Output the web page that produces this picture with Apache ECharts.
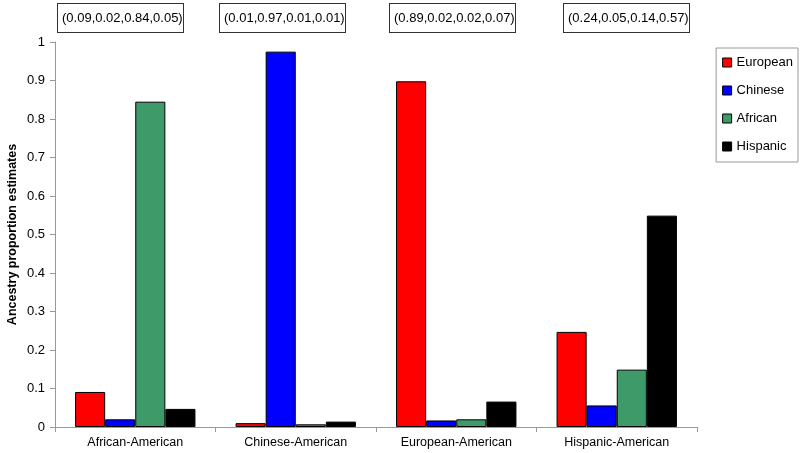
<!DOCTYPE html>
<html><head><meta charset="utf-8">
<script src="https://cdn.jsdelivr.net/npm/echarts@6/dist/echarts.min.js"></script>
<style>html,body{margin:0;padding:0;background:#fff}#c{width:800px;height:453px}</style>
</head><body><div id="c"></div>
<script>
const categories = ['African-American','Chinese-American','European-American','Hispanic-American'];
const european = [0.091, 0.010, 0.898, 0.247];
const chinese  = [0.020, 0.975, 0.017, 0.056];
const african  = [0.845, 0.007, 0.020, 0.149];
const hispanic = [0.047, 0.014, 0.066, 0.549];
const boxLabels = ['(0.09,0.02,0.84,0.05)','(0.01,0.97,0.01,0.01)','(0.89,0.02,0.02,0.07)','(0.24,0.05,0.14,0.57)'];
const yTicks = [0,0.1,0.2,0.3,0.4,0.5,0.6,0.7,0.8,0.9,1];

const chart = echarts.init(document.getElementById('c'));
const font = 'Liberation Sans, Arial, sans-serif';
function s(name, data, color){
  return {name, type:'bar', data, barGap:'0%', barCategoryGap:'25%',
    itemStyle:{color, borderColor:'#000', borderWidth:1}};
}
const boxCenters = [120, 282, 452, 626];
chart.setOption({
  animation:false,
  textStyle:{fontFamily:font},
  grid:{left:55, right:103, top:42, bottom:26, outerBoundsMode:'none', containLabel:false},
  legend:{orient:'vertical', right:2, top:48, itemWidth:9, itemHeight:9, itemGap:15,
    borderColor:'#999', borderWidth:1, padding:[8,5,9,6],
    icon:'rect',
    itemStyle:{borderColor:'#000', borderWidth:1},
    textStyle:{fontSize:13, color:'#000', fontFamily:font},
    data:['European','Chinese','African','Hispanic']},
  xAxis:{type:'category', data:categories,
    axisLine:{lineStyle:{color:'#999'}},
    axisTick:{show:true, alignWithLabel:false, length:5, lineStyle:{color:'#999'}},
    axisLabel:{color:'#000', fontSize:12.5, margin:9, fontFamily:'Liberation Sans Narrow, Liberation Sans, Arial'}},
  yAxis:{type:'value', min:0, max:1, interval:0.1,
    name:'Ancestry proportion estimates', nameLocation:'middle', nameGap:36, nameMoveOverlap:false,
    nameTextStyle:{fontWeight:'bold', fontSize:12.5, color:'#000'},
    axisLine:{show:true, lineStyle:{color:'#999'}},
    axisTick:{show:true, inside:false, length:5, lineStyle:{color:'#999'}},
    splitLine:{show:false},
    axisLabel:{color:'#000', fontSize:13, margin:10,
      formatter:v=>{const i=yTicks.findIndex(t=>Math.abs(t-v)<1e-9); return i>=0? String(yTicks[i]) : '';}}},
  graphic: boxLabels.map((t,i)=>({type:'text', left:boxCenters[i]-63, top:3,
    style:{text:t, fontSize:13, fill:'#000', fontFamily:font,
      backgroundColor:'#fff', borderColor:'#333', borderWidth:1, padding:[8,4,7,4], width:117, align:'left'}})),
  series:[s('European',european,'#ff0000'), s('Chinese',chinese,'#0000ff'), s('African',african,'#3f9a69'), s('Hispanic',hispanic,'#000000')]
});
</script></body></html>
